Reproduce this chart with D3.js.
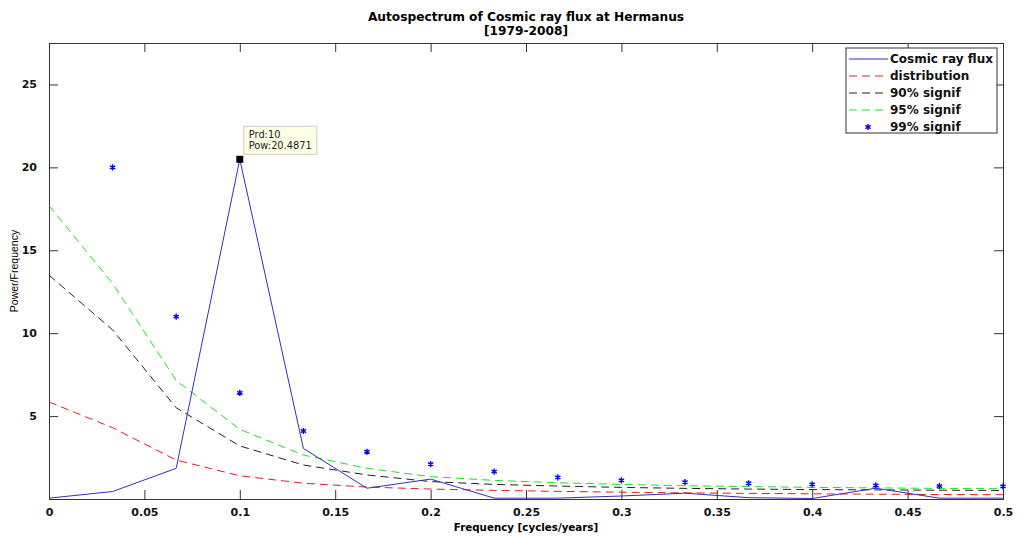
<!DOCTYPE html>
<meta charset="utf-8">
<script src="https://d3js.org/d3.v7.min.js"></script>
<style>
  body { margin: 0; background: #fff; }
  text { font-family: "DejaVu Sans", sans-serif; }
</style>
<div id="chart"></div>
<script>
// frequencies k/30 for k = 0..15 (30-year record)
var freq = d3.range(16).map(function(k) { return k / 30; });
var flux    = [0.05, 0.45, 1.85, 20.4871, 3.05, 0.65, 1.2, 0.05, 0.05, 0.18, 0.35, 0.08, 0.03, 0.65, 0.05, 0.05];
var distrib = [5.85, 4.3, 2.35, 1.4, 0.95, 0.72, 0.6, 0.52, 0.46, 0.41, 0.37, 0.34, 0.31, 0.29, 0.27, 0.26];
var sig90   = [13.5, 10.2, 5.5, 3.2, 2.05, 1.45, 1.05, 0.88, 0.78, 0.7, 0.64, 0.6, 0.57, 0.55, 0.53, 0.52];
var sig95   = [17.7, 13.0, 7.15, 4.2, 2.65, 1.85, 1.35, 1.12, 0.98, 0.88, 0.8, 0.75, 0.7, 0.67, 0.64, 0.62];
var sig99   = [null, 20.0, 11.0, 6.4, 4.1, 2.85, 2.1, 1.65, 1.3, 1.12, 1.02, 0.95, 0.88, 0.82, 0.78, 0.76];
var xTicks = [0, 0.05, 0.1, 0.15, 0.2, 0.25, 0.3, 0.35, 0.4, 0.45, 0.5];
var yTicks = [5, 10, 15, 20, 25];
var peak = {prd: 10, pow: 20.4871, f: 0.1};

var margin = {top: 43, right: 14, bottom: 37, left: 49},
    width = 1017 - margin.left - margin.right,
    height = 536 - margin.top - margin.bottom;

var svg = d3.select("#chart")
  .append("svg")
    .attr("width", 1017)
    .attr("height", 536)
  .append("g")
    .attr("transform", "translate(" + margin.left + "," + margin.top + ")");

var x = d3.scaleLinear().domain([0, 0.5]).range([0, width]);
var y = d3.scaleLinear().domain([0, 27.5]).range([height, 0]);

var axisColor = "#333";

// box + ticks on all sides (MATLAB style)
svg.append("g")
    .attr("transform", "translate(0," + height + ")")
    .call(d3.axisBottom(x).tickValues(xTicks).tickSize(-9).tickPadding(9)
      .tickFormat(function(d) { return d3.format("")(+d.toFixed(2)); }))
    .call(function(g) {
      g.selectAll("text").attr("font-size", 11).attr("font-weight", "bold").attr("fill", "#111");
    });
svg.append("g")
    .call(d3.axisTop(x).tickValues(xTicks).tickSize(-9).tickFormat(""));
svg.append("g")
    .call(d3.axisLeft(y).tickValues(yTicks).tickSize(-9).tickPadding(12))
    .call(function(g) {
      g.selectAll("text").attr("font-size", 11).attr("font-weight", "bold").attr("fill", "#111");
    });
svg.append("g")
    .attr("transform", "translate(" + width + ",0)")
    .call(d3.axisRight(y).tickValues(yTicks).tickSize(-9).tickFormat(""));
svg.selectAll(".domain").attr("stroke", axisColor);
svg.selectAll(".tick line").attr("stroke", axisColor);

var line = function(vals) {
  return d3.line()
    .defined(function(d) { return d != null; })
    .x(function(d, i) { return x(freq[i]); })
    .y(function(d) { return y(d); })(vals);
};

var series = [
  {vals: distrib, color: "#e02020", dash: "8,5"},
  {vals: sig90, color: "#222", dash: "8,5"},
  {vals: sig95, color: "#22dd22", dash: "8,5"},
  {vals: flux, color: "#3030c0", dash: null}
];
series.forEach(function(s) {
  svg.append("path")
    .attr("d", line(s.vals))
    .attr("fill", "none")
    .attr("stroke", s.color)
    .attr("stroke-width", 1)
    .attr("stroke-dasharray", s.dash);
});

var star = d3.symbol().type(d3.symbolAsterisk).size(26);
svg.append("g")
  .selectAll("path")
  .data(sig99.map(function(v, i) { return {f: freq[i], v: v}; }).filter(function(d) { return d.v != null; }))
  .enter()
  .append("path")
    .attr("d", star)
    .attr("transform", function(d) { return "translate(" + x(d.f) + "," + y(d.v) + ")"; })
    .attr("fill", "none")
    .attr("stroke", "#0000ff")
    .attr("stroke-width", 1.4);

// data tip
svg.append("rect")
  .attr("x", x(peak.f) - 3.5).attr("y", y(peak.pow) - 3.5)
  .attr("width", 7).attr("height", 7)
  .attr("fill", "#000");
var tip = svg.append("g")
  .attr("transform", "translate(" + (x(peak.f) + 4) + "," + (y(peak.pow) - 33) + ")");
tip.append("rect")
  .attr("width", 73).attr("height", 28)
  .attr("fill", "#ffffe6").attr("stroke", "#ccc");
tip.append("text").attr("x", 5).attr("y", 12).attr("font-size", 9.8).attr("fill", "#222")
  .text("Prd:" + peak.prd);
tip.append("text").attr("x", 5).attr("y", 23).attr("font-size", 9.8).attr("fill", "#222")
  .text("Pow:" + peak.pow);

// legend
var legendItems = [
  {label: "Cosmic ray flux", color: "#3030c0", dash: null},
  {label: "distribution", color: "#e02020", dash: "8,5"},
  {label: "90% signif", color: "#222", dash: "8,5"},
  {label: "95% signif", color: "#22dd22", dash: "8,5"},
  {label: "99% signif", color: "#0000ff", marker: true}
];
var legend = svg.append("g").attr("transform", "translate(" + (846 - margin.left) + "," + (48 - margin.top) + ")");
legend.append("rect").attr("width", 151).attr("height", 85)
  .attr("fill", "#fff").attr("stroke", "#333");
legendItems.forEach(function(d, i) {
  var ly = 11 + i * 17;
  if (d.marker) {
    legend.append("path").attr("d", star)
      .attr("transform", "translate(22," + ly + ")")
      .attr("fill", "none").attr("stroke", d.color).attr("stroke-width", 1.4);
  } else {
    legend.append("line").attr("x1", 3).attr("x2", 42).attr("y1", ly).attr("y2", ly)
      .attr("stroke", d.color).attr("stroke-dasharray", d.dash);
  }
  legend.append("text").attr("x", 44).attr("y", ly + 4)
    .attr("font-size", 12).attr("font-weight", "bold").attr("fill", "#111")
    .text(d.label);
});

// titles
svg.append("text")
  .attr("x", width / 2).attr("y", -22)
  .attr("text-anchor", "middle").attr("font-size", 12.2).attr("font-weight", "bold")
  .text("Autospectrum of Cosmic ray flux at Hermanus");
svg.append("text")
  .attr("x", width / 2).attr("y", -8)
  .attr("text-anchor", "middle").attr("font-size", 12.2).attr("font-weight", "bold")
  .text("[1979-2008]");
svg.append("text")
  .attr("x", width / 2).attr("y", height + 32)
  .attr("text-anchor", "middle").attr("font-size", 10.3).attr("font-weight", "bold")
  .text("Frequency [cycles/years]");
svg.append("text")
  .attr("transform", "rotate(-90)")
  .attr("x", -height / 2).attr("y", -31)
  .attr("text-anchor", "middle").attr("font-size", 10.5)
  .style("font-family", "'Liberation Sans', Arial, sans-serif")
  .text("Power/Frequency");
</script>
